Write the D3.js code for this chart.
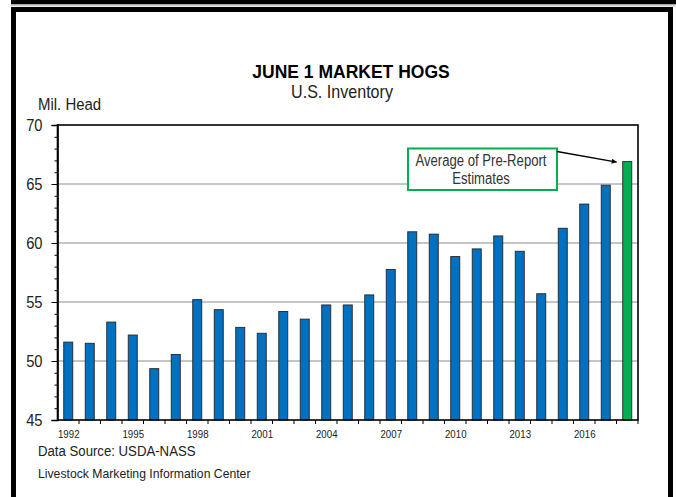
<!DOCTYPE html>
<html>
<head>
<meta charset="utf-8">
<script src="https://cdn.jsdelivr.net/npm/d3@7"></script>
<style>
  body { margin: 0; background: #fff; }
  svg { display: block; font-family: "Liberation Sans", Arial, sans-serif; }
</style>
</head>
<body>
<svg id="chart" width="676" height="497"></svg>
<script>
// June 1 market hogs, million head
var years = d3.range(1992, 2019).map(String);
var hogs = [51.6, 51.5, 53.3, 52.2, 49.35, 50.55, 55.2, 54.35, 52.85, 52.35,
            54.2, 53.55, 54.75, 54.75, 55.6, 57.75, 60.95, 60.75, 58.85, 59.5,
            60.6, 59.3, 55.7, 61.25, 63.3, 64.9, 66.9];
var estimateYear = "2018";
var yTicks = [45, 50, 55, 60, 65, 70];
var xLabels = ["1992", "1995", "1998", "2001", "2004", "2007", "2010", "2013", "2016"];

var svg = d3.select("#chart");

// no narrow font installed, so squeeze regular text sideways
function narrowText(parent, x, y, size, sx, str, anchor) {
  return parent.append("text")
      .attr("transform", "translate(" + x + "," + y + ") scale(" + sx + ",1)")
      .attr("text-anchor", anchor || "start")
      .attr("font-size", size)
      .attr("fill", "#222")
      .text(str);
}

// page frame
svg.append("rect").attr("x", 11).attr("y", 0).attr("width", 665).attr("height", 4.5).attr("fill", "#000");
svg.append("rect").attr("x", 11).attr("y", 4.5).attr("width", 665).attr("height", 2).attr("fill", "#d0d0d0");
svg.append("rect").attr("x", 13.5).attr("y", 9.5).attr("width", 657).attr("height", 500)
    .attr("fill", "#fff").attr("stroke", "#000").attr("stroke-width", 5);

var margin = {left: 57.5, top: 125, right: 638, bottom: 420};

var x = d3.scaleBand()
    .domain(years)
    .range([margin.left, margin.right])
    .paddingInner(0.58)
    .paddingOuter(0.29);

var y = d3.scaleLinear()
    .domain([45, 70])
    .range([margin.bottom, margin.top]);

// gridlines
svg.append("g")
  .selectAll("line")
  .data(yTicks.slice(1, -1))
  .enter().append("line")
    .attr("x1", margin.left).attr("x2", margin.right)
    .attr("y1", function(d) { return y(d); })
    .attr("y2", function(d) { return y(d); })
    .attr("stroke", "#8c8c8c").attr("stroke-width", 1);

// bars
svg.append("g")
  .selectAll("rect")
  .data(hogs)
  .enter().append("rect")
    .attr("x", function(d, i) { return x(years[i]); })
    .attr("y", function(d) { return y(d); })
    .attr("width", x.bandwidth())
    .attr("height", function(d) { return y(45) - y(d); })
    .attr("fill", function(d, i) { return years[i] == estimateYear ? "#00b050" : "#0070c0"; })
    .attr("stroke", "#262626").attr("stroke-width", 0.9);

// plot border
svg.append("rect")
    .attr("x", margin.left).attr("y", margin.top)
    .attr("width", margin.right - margin.left).attr("height", margin.bottom - margin.top)
    .attr("fill", "none").attr("stroke", "#000").attr("stroke-width", 1.6);

// y axis: minor ticks every 1, major every 5
var yMinor = svg.append("g")
    .attr("transform", "translate(" + margin.left + ",0)")
    .call(d3.axisLeft(y).tickValues(d3.range(45, 71)).tickSize(3).tickFormat(""));
yMinor.select(".domain").remove();
yMinor.selectAll("line").attr("stroke", "#000");

var yAxis = svg.append("g")
    .attr("transform", "translate(" + margin.left + ",0)")
    .call(d3.axisLeft(y).tickValues(yTicks).tickSize(6));
yAxis.select(".domain").attr("stroke", "#000").attr("stroke-width", 1.6);
yAxis.selectAll("line").attr("stroke", "#000");
yAxis.selectAll("text")
    .attr("font-family", null)
    .attr("font-size", 16)
    .attr("fill", "#222")
    .attr("x", null)
    .attr("transform", "translate(-15,0) scale(0.92,1)");

// x axis: ticks at band edges, labels every 3 years
var step = x.step();
var xEdges = svg.append("g");
xEdges.selectAll("line")
  .data(years)
  .enter().append("line")
    .attr("x1", function(d) { return x(d) + x.bandwidth() + step * 0.29; })
    .attr("x2", function(d) { return x(d) + x.bandwidth() + step * 0.29; })
    .attr("y1", margin.bottom).attr("y2", margin.bottom + 4)
    .attr("stroke", "#000");

var xAxis = svg.append("g")
    .attr("transform", "translate(" + (x.bandwidth() / 2) + "," + margin.bottom + ")")
    .call(d3.axisBottom(d3.scaleOrdinal().domain(xLabels).range(xLabels.map(function(d) { return x(d); })))
      .tickSize(0).tickPadding(10));
xAxis.select(".domain").remove();
xAxis.selectAll("text")
    .attr("font-family", null)
    .attr("font-size", 11)
    .attr("fill", "#222")
    .attr("transform", "scale(0.88,1)");

// titles
svg.append("text")
    .attr("x", 351).attr("y", 78)
    .attr("text-anchor", "middle")
    .attr("font-weight", "bold")
    .attr("font-size", 17.5)
    .attr("fill", "#000")
    .text("JUNE 1 MARKET HOGS");

narrowText(svg, 342, 97.5, 17.5, 0.92, "U.S. Inventory", "middle");
narrowText(svg, 38, 110, 17, 0.88, "Mil. Head");

// annotation
var note = svg.append("g");
note.append("rect")
    .attr("x", 408).attr("y", 148.5)
    .attr("width", 149).attr("height", 41.5)
    .attr("fill", "#fff").attr("stroke", "#00b050").attr("stroke-width", 2);
narrowText(note, 481, 166, 16, 0.82, "Average of Pre-Report", "middle").attr("fill", "#333");
narrowText(note, 481, 183.5, 16, 0.82, "Estimates", "middle").attr("fill", "#333");

svg.append("defs").append("marker")
    .attr("id", "arrow")
    .attr("viewBox", "0 0 10 10")
    .attr("refX", 10).attr("refY", 5)
    .attr("markerWidth", 7).attr("markerHeight", 5)
    .attr("markerUnits", "userSpaceOnUse")
    .attr("orient", "auto")
  .append("path")
    .attr("d", "M0,0L10,5L0,10z")
    .attr("fill", "#000");

svg.append("line")
    .attr("x1", 557).attr("y1", 151.5)
    .attr("x2", x(estimateYear) - 6).attr("y2", y(hogs[hogs.length - 1]) + 0.5)
    .attr("stroke", "#000").attr("stroke-width", 1.4)
    .attr("marker-end", "url(#arrow)");

// source notes
narrowText(svg, 38, 456, 15, 0.88, "Data Source:  USDA-NASS");
narrowText(svg, 38, 478, 13, 0.94, "Livestock Marketing Information Center");
</script>
</body>
</html>
